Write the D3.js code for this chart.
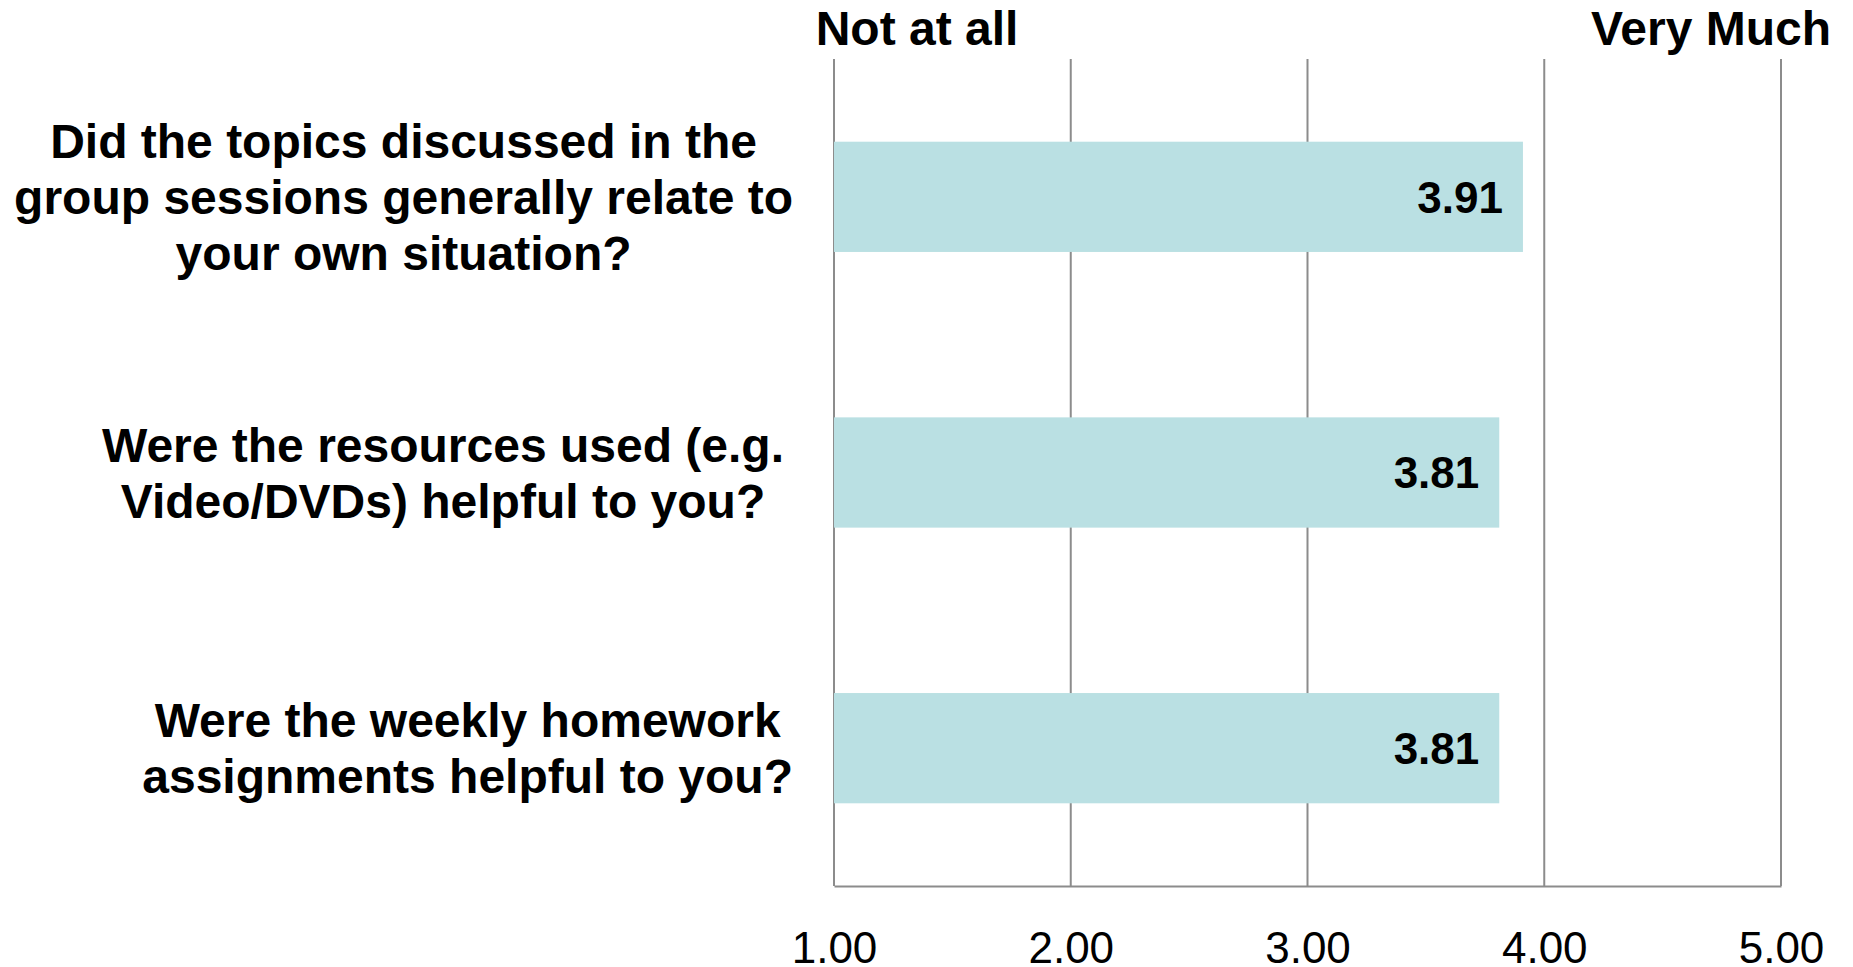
<!DOCTYPE html>
<html>
<head>
<meta charset="utf-8">
<script src="https://cdn.jsdelivr.net/npm/d3@7"></script>
<style>
  body { margin: 0; background: #fff; }
  text { font-family: "Liberation Sans", Arial, sans-serif; }
</style>
</head>
<body>
<script>
// chart data
var questions = [
  ["Did the topics discussed in the", "group sessions generally relate to", "your own situation?"],
  ["Were the resources used (e.g.", "Video/DVDs) helpful to you?"],
  ["Were the weekly homework", "assignments helpful to you?"]
];
var scores = [3.91, 3.81, 3.81];
var tickValues = [1, 2, 3, 4, 5];
var endLabels = ["Not at all", "Very Much"];

var W = 1853, H = 967;

let svg = d3.select('body')
  .append('svg')
  .attr('width', W)
  .attr('height', H);

let x = d3.scaleLinear().domain([1, 5]).range([834, 1781]);
let y = d3.scaleBand()
  .domain(d3.range(questions.length))
  .range([59, 886])
  .paddingInner(0.6)
  .paddingOuter(0.3);

// vertical gridlines
svg.selectAll('line.grid')
  .data(tickValues)
  .enter()
  .append('line')
  .attr('class', 'grid')
  .attr('x1', d => x(d)).attr('x2', d => x(d))
  .attr('y1', 59).attr('y2', 886)
  .attr('stroke', '#8c8c8c')
  .attr('stroke-width', 2);

// bars
svg.selectAll('rect')
  .data(scores)
  .enter()
  .append('rect')
  .attr('x', x(1))
  .attr('y', (d, i) => y(i))
  .attr('width', d => x(d) - x(1))
  .attr('height', y.bandwidth())
  .attr('fill', '#bae0e3');

// bottom axis
let xAxis = d3.axisBottom(x)
  .tickValues(tickValues)
  .tickSize(0)
  .tickPadding(46)
  .tickFormat(d3.format('.2f'));

let gx = svg.append('g')
  .attr('transform', 'translate(0,886)')
  .call(xAxis);
gx.select('.domain').attr('stroke', '#8c8c8c').attr('stroke-width', 2);
gx.selectAll('text')
  .attr('font-size', 44)
  .attr('font-family', '"Liberation Sans", Arial, sans-serif')
  .attr('fill', '#000');

// value labels inside bars
svg.selectAll('text.val')
  .data(scores)
  .enter()
  .append('text')
  .attr('class', 'val')
  .attr('x', d => x(d) - 20)
  .attr('y', (d, i) => y(i) + y.bandwidth() / 2)
  .attr('dy', '0.36em')
  .attr('text-anchor', 'end')
  .attr('font-size', 44)
  .attr('font-weight', 'bold')
  .text(d => d.toFixed(2));

// question labels: centred block, widest line ends near the axis
let lineH = 56;
let labelRight = [793, 784, 793];
svg.selectAll('text.q')
  .data(questions)
  .enter()
  .append('text')
  .attr('class', 'q')
  .attr('text-anchor', 'middle')
  .attr('font-size', 48)
  .attr('font-weight', 'bold')
  .each(function (lines, i) {
    let t = d3.select(this);
    let cy = y(i) + y.bandwidth() / 2;
    let top = cy - (lines.length - 1) * lineH / 2;
    let spans = t.selectAll('tspan')
      .data(lines)
      .enter()
      .append('tspan')
      .attr('y', (l, j) => top + j * lineH)
      .attr('dy', '0.36em')
      .text(l => l);
    let maxW = d3.max(spans.nodes(), n => n.getComputedTextLength());
    spans.attr('x', labelRight[i] - maxW / 2);
  });

// scale end labels
svg.append('text')
  .attr('x', 917).attr('y', 45)
  .attr('text-anchor', 'middle')
  .attr('font-size', 48)
  .attr('font-weight', 'bold')
  .text(endLabels[0]);

svg.append('text')
  .attr('x', 1831).attr('y', 45)
  .attr('text-anchor', 'end')
  .attr('font-size', 48)
  .attr('font-weight', 'bold')
  .text(endLabels[1]);
</script>
</body>
</html>
